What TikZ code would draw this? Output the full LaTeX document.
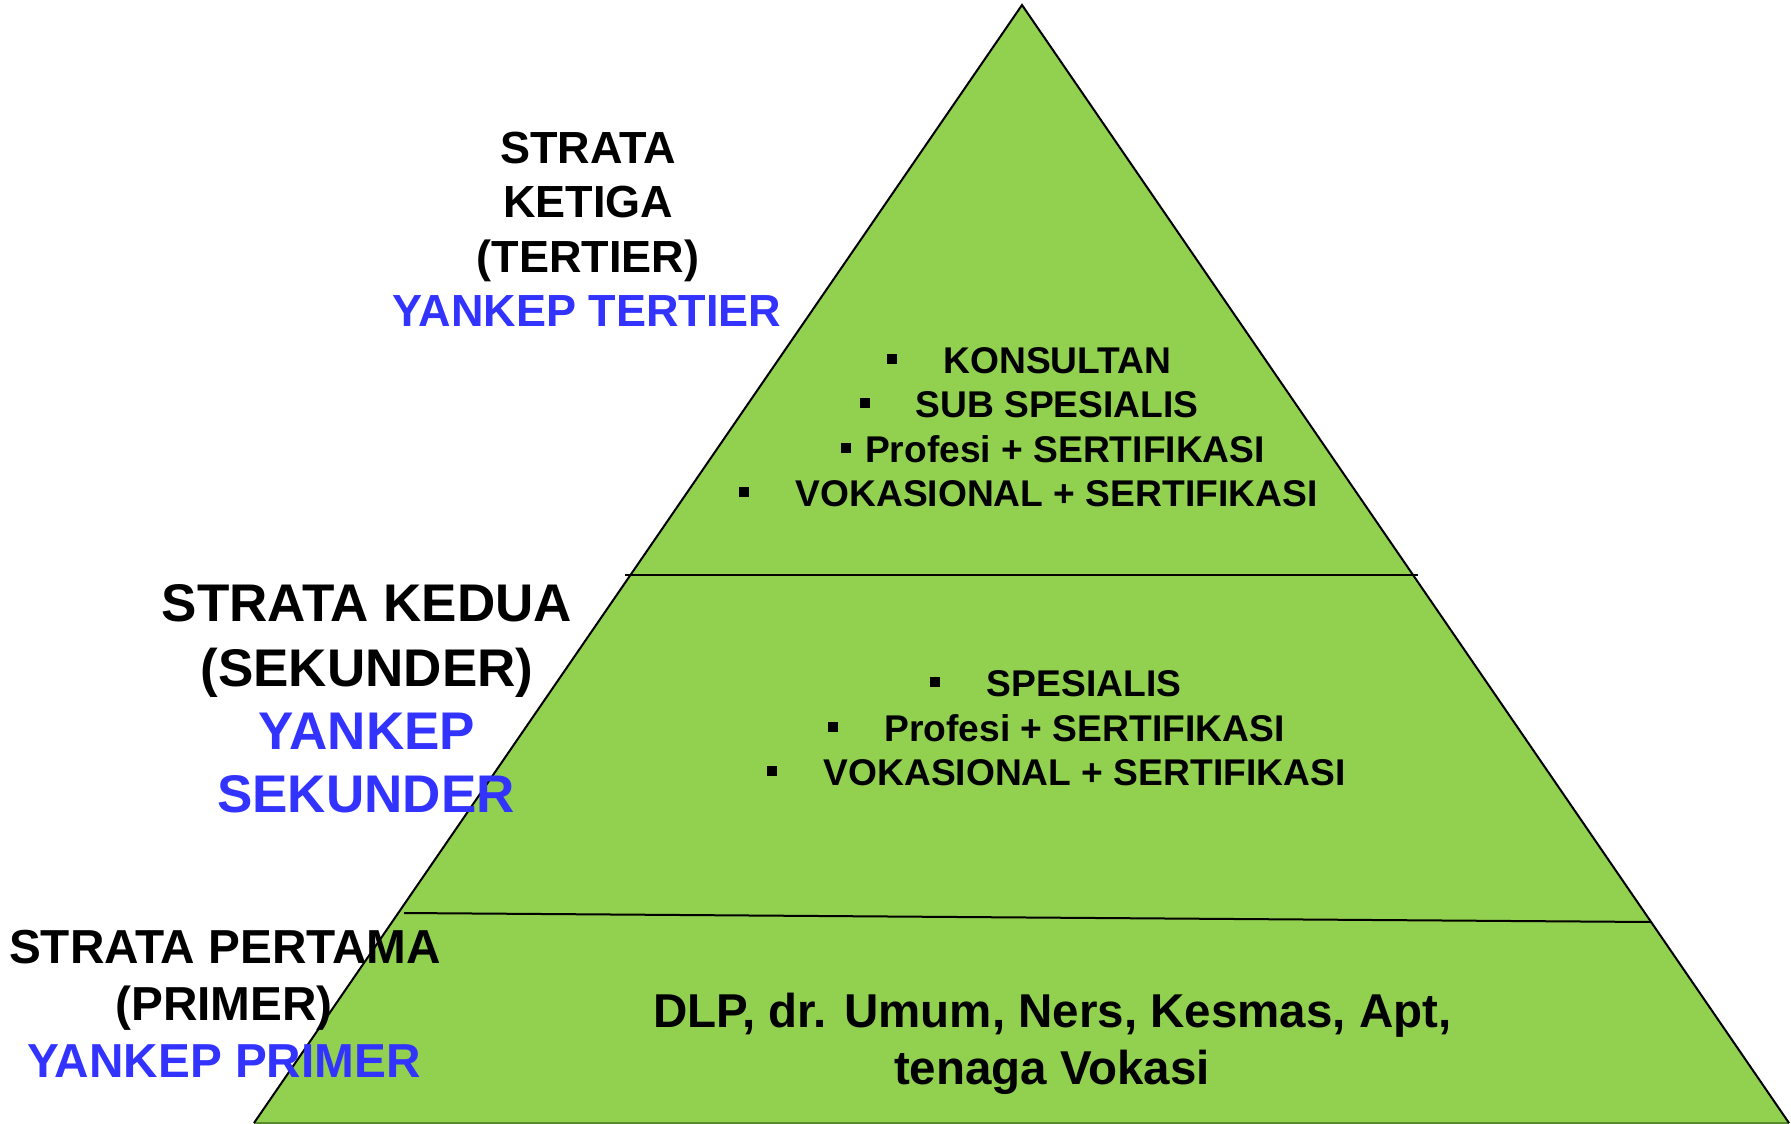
\documentclass[tikz,border=0pt]{standalone}
\usepackage{fontspec}
\setmainfont{Liberation Sans}
\definecolor{pyr}{HTML}{92D050}
\definecolor{pyrdark}{HTML}{5A8A2E}
\definecolor{yblue}{HTML}{3333FF}
\tikzset{
  edge/.style={line width=2pt, line join=miter},
  divider/.style={line width=2pt},
  lblA/.style={anchor=base, inner sep=0, font=\bfseries\fontsize{45}{54}\selectfont},
  lblB/.style={anchor=base, inner sep=0, font=\bfseries\fontsize{53}{63}\selectfont},
  lblC/.style={anchor=base, inner sep=0, font=\bfseries\fontsize{47.7}{57}\selectfont},
  item/.style={anchor=base, inner sep=0, font=\bfseries\fontsize{37.2}{44}\selectfont},
  base/.style={anchor=base, inner sep=0, font=\bfseries\fontsize{47.5}{57}\selectfont},
  bul/.style={rectangle, fill=black, minimum size=10pt, inner sep=0}
}
\begin{document}
\begin{tikzpicture}[x=1pt,y=-1pt]
\useasboundingbox (0,0) rectangle (1791,1124);
\coordinate (apex) at (1022,5);
\coordinate (bl) at (254,1123);
\coordinate (br) at (1789,1123);
\fill[pyr] (apex) -- (bl) -- (br) -- cycle;
\draw[pyrdark, line width=1.5pt] (bl) -- (br);
\draw[edge] (bl) -- (apex) -- (br);
\coordinate (d1a) at (625,575);
\coordinate (d1b) at (1418,575);
\coordinate (d2a) at (404,913);
\coordinate (d2b) at (1651,922);
\draw[divider] (d1a) -- (d1b);
\draw[divider] (d2a) -- (d2b);

% tertiary items
\node[bul] (tb1) at (892,359) {};
\node[bul] (tb2) at (865,403) {};
\node[bul] (tb3) at (846,448) {};
\node[bul] (tb4) at (744,492) {};
\node[item] (t1) at (1057.5,373) {KONSULTAN};
\node[item] (t2) at (1057,417) {SUB SPESIALIS};
\node[item] (t3) at (1065,462) {Profesi + SERTIFIKASI};
\node[item] (t4) at (1056.5,506) {VOKASIONAL + SERTIFIKASI};

% secondary items
\node[bul] (sb1) at (935,682) {};
\node[bul] (sb2) at (833,727) {};
\node[bul] (sb3) at (772,771) {};
\node[item] (s1) at (1084,696) {SPESIALIS};
\node[item] (s2) at (1084.5,741) {Profesi + SERTIFIKASI};
\node[item] (s3) at (1084.5,785) {VOKASIONAL + SERTIFIKASI};

% primary
\node[base] (p1) at (1052.5,1027) {DLP, dr. Umum, Ners, Kesmas, Apt,};
\node[base] (p2) at (1052,1084) {tenaga Vokasi};

% left labels
\node[lblA] (a1) at (588,163) {STRATA};
\node[lblA] (a2) at (588,217) {KETIGA};
\node[lblA] (a3) at (588,272) {(TERTIER)};
\node[lblA, text=yblue] (a4) at (587,326) {YANKEP TERTIER};

\node[lblB] (b1) at (367,621) {STRATA KEDUA};
\node[lblB] (b2) at (367,686) {(SEKUNDER)};
\node[lblB, text=yblue] (b3) at (367,749) {YANKEP};
\node[lblB, text=yblue] (b4) at (366,812) {SEKUNDER};

\node[lblC] (c1) at (225,963) {STRATA PERTAMA};
\node[lblC] (c2) at (224,1020) {(PRIMER)};
\node[lblC, text=yblue] (c3) at (224,1077) {YANKEP PRIMER};
\end{tikzpicture}
\end{document}
